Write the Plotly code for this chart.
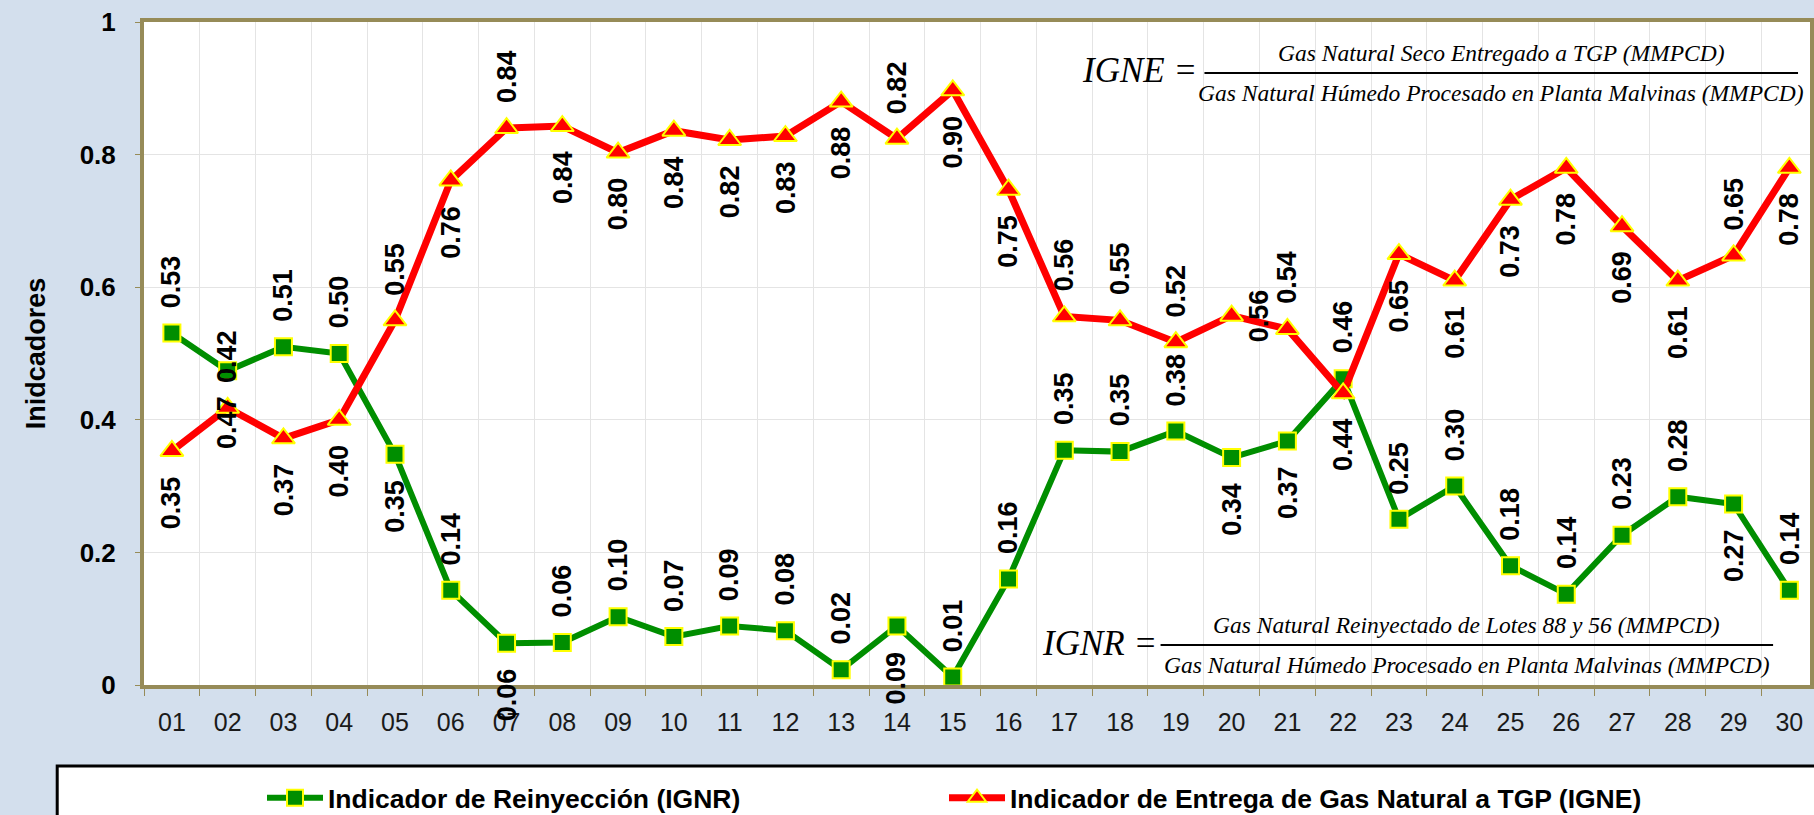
import plotly.graph_objects as go

# ---------------- data ----------------
days = ["01", "02", "03", "04", "05", "06", "07", "08", "09", "10",
        "11", "12", "13", "14", "15", "16", "17", "18", "19", "20",
        "21", "22", "23", "24", "25", "26", "27", "28", "29", "30"]

ignr = [0.531, 0.474, 0.510, 0.500, 0.348, 0.143, 0.063, 0.064, 0.103, 0.073,
        0.089, 0.082, 0.023, 0.089, 0.012, 0.160, 0.354, 0.352, 0.383, 0.343,
        0.368, 0.462, 0.250, 0.300, 0.180, 0.137, 0.226, 0.284, 0.273, 0.143]

igne = [0.353, 0.418, 0.372, 0.400, 0.550, 0.761, 0.840, 0.843, 0.803, 0.836,
        0.822, 0.828, 0.880, 0.824, 0.897, 0.747, 0.556, 0.550, 0.517, 0.557,
        0.537, 0.440, 0.650, 0.610, 0.732, 0.780, 0.692, 0.610, 0.648, 0.780]

ignr_label_pos = ["above", "below", "above", "above", "below", "above", "below", "above", "above", "above",
                  "above", "above", "above", "below", "above", "above", "above", "above", "above", "below",
                  "below", "above", "above", "above", "above", "above", "above", "above", "below", "above"]

igne_label_pos = ["below", "above", "below", "below", "above", "below", "above", "below", "below", "below",
                  "below", "below", "below", "above", "below", "below", "above", "above", "above", "right",
                  "above", "below", "below", "below", "below", "below", "below", "below", "above", "below"]

y_ticks = [0, 0.2, 0.4, 0.6, 0.8, 1]
y_ticktext = ["0", "0.2", "0.4", "0.6", "0.8", "1"]

name_ignr = "Indicador de Reinyección (IGNR)"
name_igne = "Indicador de Entrega de Gas Natural a TGP (IGNE)"
title_y = "Inidcadores"

igne_num = "Gas Natural Seco Entregado a TGP (MMPCD)"
igne_den = "Gas Natural Húmedo Procesado en Planta Malvinas (MMPCD)"
ignr_num = "Gas Natural Reinyectado de Lotes 88 y 56 (MMPCD)"
ignr_den = "Gas Natural Húmedo Procesado en Planta Malvinas (MMPCD)"

# ---------------- style / geometry ----------------
W, H = 1814, 815
ML, MR, MT, MB = 144, 0, 22, 130
PW, PH = W - ML - MR, H - MT - MB

def px(xp):
    return (xp - ML) / PW

def py(yp):
    return (H - MB - yp) / PH

BG = "#D3DFED"
OLIVE = "#968B58"
GREEN = "rgb(0,142,0)"
RED = "#FF0000"
YELLOW = "#FFFF00"
FONT = "Liberation Sans, Arial, sans-serif"
SERIF = "Liberation Serif, Times New Roman, serif"

fig = go.Figure()

fig.add_trace(go.Scatter(
    x=days, y=ignr, name=name_ignr, mode="lines+markers", legend="legend",
    line=dict(color=GREEN, width=6),
    marker=dict(symbol="square", size=17, color=GREEN, line=dict(color=YELLOW, width=2)),
))
fig.add_trace(go.Scatter(
    x=days, y=igne, name=name_igne, mode="lines+markers", legend="legend2",
    line=dict(color=RED, width=7),
    marker=dict(symbol="triangle-up", size=20, color=RED, line=dict(color=YELLOW, width=2)),
))

annotations = []
GAP = 24
for series, positions in ((ignr, ignr_label_pos), (igne, igne_label_pos)):
    for i, (v, p) in enumerate(zip(series, positions)):
        a = dict(x=i, y=v, xref="x", yref="y", text=f"{v:.2f}", showarrow=False,
                 textangle=-90, font=dict(family=FONT, size=27, color="black", weight="bold"),
                 borderpad=0)
        if p == "above":
            a.update(xanchor="center", yanchor="bottom", yshift=GAP)
        elif p == "below":
            a.update(xanchor="center", yanchor="top", yshift=-GAP)
        else:
            a.update(xanchor="left", yanchor="middle", xshift=11)
        annotations.append(a)

# formulas
def formula(label, num, den, bar_x0, bar_x1, bar_y, label_right):
    cx = (bar_x0 + bar_x1) / 2
    annotations.append(dict(x=px(cx), y=py(bar_y - 20), xref="paper", yref="paper",
                            text=f"<i>{num}</i>", showarrow=False, xanchor="center", yanchor="middle",
                            font=dict(family=SERIF, size=23.5, color="black")))
    annotations.append(dict(x=px(cx), y=py(bar_y + 20), xref="paper", yref="paper",
                            text=f"<i>{den}</i>", showarrow=False, xanchor="center", yanchor="middle",
                            font=dict(family=SERIF, size=23.5, color="black")))
    annotations.append(dict(x=px(label_right), y=py(bar_y - 2), xref="paper", yref="paper",
                            text=f"<i>{label} =</i>", showarrow=False, xanchor="right", yanchor="middle",
                            font=dict(family=SERIF, size=35, color="black")))

formula("IGNE", igne_num, igne_den, 1207, 1802, 73, 1202)
formula("IGNR", ignr_num, ignr_den, 1163, 1777, 645, 1161)

shapes = [
    # white backgrounds behind formulas
    dict(type="rect", xref="paper", yref="paper", x0=px(1080), x1=px(1812), y0=py(30), y1=py(112),
         fillcolor="white", line=dict(width=0), layer="between"),
    dict(type="rect", xref="paper", yref="paper", x0=px(1045), x1=px(1790), y0=py(604), y1=py(682),
         fillcolor="white", line=dict(width=0), layer="between"),
    # fraction bars
    dict(type="line", xref="paper", yref="paper", x0=px(1207), x1=px(1802), y0=py(73), y1=py(73),
         line=dict(color="black", width=2), layer="above"),
    dict(type="line", xref="paper", yref="paper", x0=px(1163), x1=px(1777), y0=py(645), y1=py(645),
         line=dict(color="black", width=2), layer="above"),
    # legend box
    dict(type="rect", xref="paper", yref="paper", x0=px(57), x1=px(1900), y0=py(766), y1=py(900),
         fillcolor="white", line=dict(color="black", width=3), layer="below"),
]

legend_common = dict(orientation="h", xref="container", yref="container",
                     y=1 - 798 / H, xanchor="left", yanchor="middle",
                     bgcolor="rgba(0,0,0,0)", borderwidth=0,
                     font=dict(family=FONT, size=26.5, color="black", weight="bold"),
                     itemwidth=56)

fig.update_layout(
    width=W, height=H,
    margin=dict(l=ML, r=MR, t=MT, b=MB, pad=0),
    paper_bgcolor=BG, plot_bgcolor="white",
    font=dict(family=FONT, color="black"),
    showlegend=True,
    legend=dict(x=262 / W, **legend_common),
    legend2=dict(x=944 / W, **legend_common),
    annotations=annotations,
    shapes=shapes,
    xaxis=dict(type="category", range=[-0.5, 29.37], tickson="boundaries",
               showgrid=True, gridcolor="#E4E4E4", gridwidth=1,
               ticks="outside", ticklen=7, tickcolor=OLIVE, tickwidth=1,
               showline=True, linecolor=OLIVE, linewidth=4, mirror=True,
               tickfont=dict(family=FONT, size=25, color="#1A1A1A"),
               ticklabelstandoff=12),
    yaxis=dict(range=[0, 1], tickvals=y_ticks, ticktext=y_ticktext,
               showgrid=True, gridcolor="#E4E4E4", gridwidth=1, zeroline=False,
               ticks="outside", ticklen=5, tickcolor=OLIVE, tickwidth=1,
               showline=True, linecolor=OLIVE, linewidth=4, mirror=True,
               tickfont=dict(family=FONT, size=26, color="black", weight="bold"),
               ticklabelstandoff=14,
               title=dict(text=title_y, standoff=27,
                          font=dict(family=FONT, size=27, color="black", weight="bold"))),
)

fig.write_html("out.html",
               config={"displayModeBar": False},
               post_script="document.body.style.margin='0';document.body.style.padding='0';"
                           "document.body.style.overflow='hidden';document.body.style.background='" + BG + "';")
